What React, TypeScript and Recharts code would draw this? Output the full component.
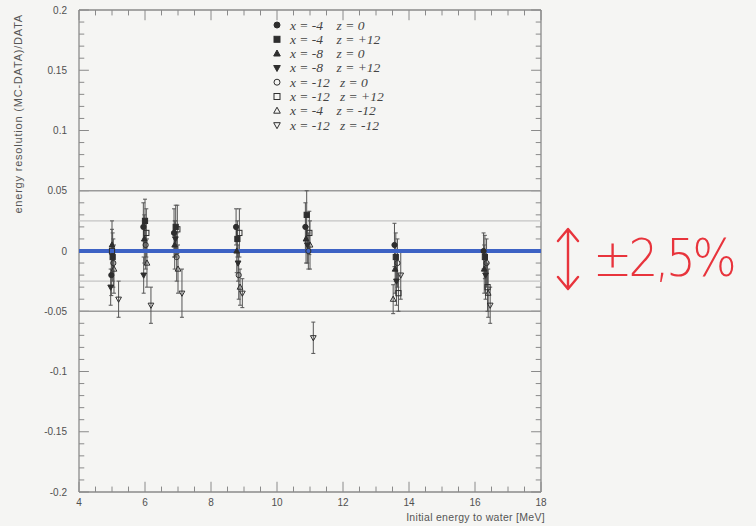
import React from 'react';
import { ScatterChart, Scatter, XAxis, YAxis, ReferenceLine, ErrorBar, Legend } from 'recharts';

// ---------- axis ticks ----------
const ENERGY_TICKS = [4, 6, 8, 10, 12, 14, 16, 18];
const RES_TICKS = [-0.2, -0.15, -0.1, -0.05, 0, 0.05, 0.1, 0.15, 0.2];
const RES_TICK_LABELS = ['-0.2', '-0.15', '-0.1', '-0.05', '0', '0.05', '0.1', '0.15', '0.2'];
const ENERGY_MINOR_DIV = 4;
const RES_MINOR_DIV = 5;

// ---------- reference bands ----------
const BAND_OUTER = [0.05, -0.05];
const BAND_INNER = [0.025, -0.025];
const NOMINAL = 0;

// ---------- series (LINAC positions) ----------
const S1_E = [4.98, 5.95, 6.88, 8.76, 10.86, 13.56, 16.26];
const S1_V = [-0.02, 0.02, 0.015, 0.02, 0.02, 0.005, 0.0];
const S1_ERR = [0.017, 0.02, 0.02, 0.015, 0.02, 0.018, 0.015];

const S2_E = [5.02, 6.0, 6.93, 8.8, 10.9, 13.6, 16.3];
const S2_V = [-0.005, 0.025, 0.02, 0.01, 0.03, -0.005, -0.005];
const S2_ERR = [0.02, 0.018, 0.018, 0.015, 0.02, 0.02, 0.018];

const S3_E = [5.0, 5.98, 6.9, 8.78, 10.88, 13.58, 16.28];
const S3_V = [0.005, 0.01, 0.005, 0.0, 0.01, -0.015, -0.015];
const S3_ERR = [0.02, 0.02, 0.02, 0.018, 0.02, 0.02, 0.02];

const S4_E = [4.96, 5.96, 6.92, 8.82, 10.92, 13.62, 16.32];
const S4_V = [-0.03, -0.02, 0.01, -0.01, 0.005, -0.025, -0.02];
const S4_ERR = [0.015, 0.015, 0.015, 0.015, 0.015, 0.02, 0.02];

const S5_E = [5.04, 6.02, 6.96, 8.84, 10.95, 13.65, 16.35];
const S5_V = [-0.01, 0.005, -0.005, -0.02, 0.0, -0.01, -0.01];
const S5_ERR = [0.02, 0.02, 0.02, 0.02, 0.015, 0.02, 0.02];

const S6_E = [5.0, 6.04, 6.98, 8.86, 10.98, 13.68, 16.38];
const S6_V = [0.0, 0.015, 0.018, 0.015, 0.015, -0.035, -0.03];
const S6_ERR = [0.018, 0.02, 0.02, 0.02, 0.018, 0.015, 0.02];

const S7_E = [5.06, 6.06, 7.0, 8.88, 11.0, 13.52, 16.4];
const S7_V = [-0.015, -0.01, -0.015, -0.03, 0.005, -0.04, -0.035];
const S7_ERR = [0.02, 0.02, 0.02, 0.015, 0.02, 0.012, 0.02];

const S8_E = [5.2, 6.18, 7.12, 8.95, 11.1, 13.75, 16.46];
const S8_V = [-0.04, -0.045, -0.035, -0.035, -0.072, -0.02, -0.045];
const S8_ERR = [0.015, 0.015, 0.02, 0.012, 0.013, 0.02, 0.015];

const SERIES_NAMES = [
  'x = -4    z = 0',
  'x = -4    z = +12',
  'x = -8    z = 0',
  'x = -8    z = +12',
  'x = -12   z = 0',
  'x = -12   z = +12',
  'x = -4    z = -12',
  'x = -12   z = -12',
];

type Kind = 'circle' | 'square' | 'up' | 'down';
const MARKERS: { kind: Kind; filled: boolean }[] = [
  { kind: 'circle', filled: true },
  { kind: 'square', filled: true },
  { kind: 'up', filled: true },
  { kind: 'down', filled: true },
  { kind: 'circle', filled: false },
  { kind: 'square', filled: false },
  { kind: 'up', filled: false },
  { kind: 'down', filled: false },
];

const build = (e: number[], v: number[], err: number[]) => e.map((x, i) => ({ e: x, v: v[i], err: err[i] }));
const SERIES = [
  build(S1_E, S1_V, S1_ERR),
  build(S2_E, S2_V, S2_ERR),
  build(S3_E, S3_V, S3_ERR),
  build(S4_E, S4_V, S4_ERR),
  build(S5_E, S5_V, S5_ERR),
  build(S6_E, S6_V, S6_ERR),
  build(S7_E, S7_V, S7_ERR),
  build(S8_E, S8_V, S8_ERR),
];

const withMinors = (majors: number[], n: number) =>
  majors.flatMap((m, i) =>
    i === majors.length - 1 ? [m] : Array.from({ length: n }, (_, k) => +(m + ((majors[i + 1] - m) * k) / n).toFixed(6))
  );
const X_ALL = withMinors(ENERGY_TICKS, ENERGY_MINOR_DIV);
const Y_ALL = withMinors(RES_TICKS, RES_MINOR_DIV);
const isMajor = (v: number, majors: number[]) => majors.some((m) => Math.abs(m - v) < 1e-9);

const X_MIN = ENERGY_TICKS[0];
const X_MAX = ENERGY_TICKS[ENERGY_TICKS.length - 1];
const Y_MIN = RES_TICKS[0];
const Y_MAX = RES_TICKS[RES_TICKS.length - 1];

// tick lengths expressed in axis units (plot is ~462 x 482 px)
const XTICK_MAJOR = 0.0085;
const XTICK_MINOR = 0.0045;
const YTICK_MAJOR = 0.3;
const YTICK_MINOR = 0.16;

const FRAME = '#8a8a8a';
const TICK_TEXT = '#505050';
const INK = '#2e2e2e';

const Mark = ({ cx, cy, kind, filled, r = 2.6 }: any) => {
  if (cx == null || cy == null) return null;
  const fill = filled ? INK : 'none';
  const common = { fill, stroke: INK, strokeWidth: 1 };
  if (kind === 'circle') return <circle cx={cx} cy={cy} r={r} {...common} />;
  if (kind === 'square') return <rect x={cx - r} y={cy - r} width={2 * r} height={2 * r} {...common} />;
  if (kind === 'up')
    return <polygon points={`${cx},${cy - r * 1.2} ${cx - r * 1.1},${cy + r * 0.8} ${cx + r * 1.1},${cy + r * 0.8}`} {...common} />;
  return <polygon points={`${cx},${cy + r * 1.2} ${cx - r * 1.1},${cy - r * 0.8} ${cx + r * 1.1},${cy - r * 0.8}`} {...common} />;
};

const BottomLabel = ({ x, y, payload }: any) => (
  <text x={x} y={y + 14} textAnchor="middle" fontSize={10} fill={TICK_TEXT} fontFamily="Liberation Sans, Arial, sans-serif">
    {payload.value}
  </text>
);
const LeftLabel = ({ x, y, payload }: any) => {
  const idx = RES_TICKS.findIndex((m) => Math.abs(m - payload.value) < 1e-9);
  return (
    <text x={x - 12} y={y + 3.5} textAnchor="end" fontSize={10} fill={TICK_TEXT} fontFamily="Liberation Sans, Arial, sans-serif">
      {RES_TICK_LABELS[idx]}
    </text>
  );
};

const LegendBox = () => (
  <svg width={160} height={124} style={{ display: 'block' }}>
    {SERIES_NAMES.map((name, i) => {
      const cy = 9 + i * 14.3;
      return (
        <g key={name}>
          <Mark cx={7} cy={cy} kind={MARKERS[i].kind} filled={MARKERS[i].filled} r={3} />
          <text x={20} y={cy + 4.5} fontSize={13.5} fontStyle="italic" fill="#444" fontFamily="Liberation Serif, DejaVu Serif, serif" style={{ whiteSpace: 'pre' }} xmlSpace="preserve">
            {name}
          </text>
        </g>
      );
    })}
  </svg>
);

const ax = { xAxisId: 'b', yAxisId: 'l', ifOverflow: 'visible' as const };

export default function App() {
  return (
    <div style={{ position: 'absolute', left: 0, top: 0, width: 756, height: 526, background: '#f5f5f3', overflow: 'hidden' }}>
      <ScatterChart width={756} height={526} margin={{ top: 10, right: 215, bottom: 4, left: 8 }}>
        <XAxis
          xAxisId="b"
          type="number"
          dataKey="e"
          domain={[X_MIN, X_MAX]}
          allowDataOverflow
          ticks={ENERGY_TICKS}
          interval={0}
          tickLine={false}
          tickSize={0}
          tickMargin={0}
          tick={(p: any) => <BottomLabel {...p} />}
          height={30}
          axisLine={false}
          label={(p: any) => {
            const vb = p.viewBox || { x: 79, y: 492, width: 462, height: 30 };
            return (
              <text x={vb.x + vb.width + 4} y={vb.y + 29} textAnchor="end" fontSize={10.5} letterSpacing={0.3} fill="#555" fontFamily="Liberation Sans, Arial, sans-serif">
                Initial energy to water [MeV]
              </text>
            );
          }}
        />
        <YAxis
          yAxisId="l"
          type="number"
          dataKey="v"
          domain={[Y_MIN, Y_MAX]}
          allowDataOverflow
          ticks={RES_TICKS}
          interval={0}
          tickLine={false}
          tickSize={0}
          tickMargin={0}
          tick={(p: any) => <LeftLabel {...p} />}
          width={71}
          axisLine={false}
          label={(p: any) => {
            const vb = p.viewBox || { x: 8, y: 10 };
            const lx = vb.x + 14;
            const ly = vb.y + 4;
            return (
              <text x={lx} y={ly} transform={`rotate(-90 ${lx} ${ly})`} textAnchor="end" fontSize={11} letterSpacing={0.8} fill="#555" fontFamily="Liberation Sans, Arial, sans-serif">
                energy resolution (MC-DATA)/DATA
              </text>
            );
          }}
        />

        {/* frame */}
        <ReferenceLine {...ax} y={Y_MIN} stroke={FRAME} strokeWidth={1.3} />
        <ReferenceLine {...ax} y={Y_MAX} stroke={FRAME} strokeWidth={1.3} />
        <ReferenceLine {...ax} x={X_MIN} stroke={FRAME} strokeWidth={1.3} />
        <ReferenceLine {...ax} x={X_MAX} stroke={FRAME} strokeWidth={1.3} />

        {/* x ticks (bottom & top, inward) */}
        {X_ALL.map((v) => {
          const len = isMajor(v, ENERGY_TICKS) ? XTICK_MAJOR : XTICK_MINOR;
          return (
            <React.Fragment key={'xt' + v}>
              <ReferenceLine {...ax} segment={[{ x: v, y: Y_MIN }, { x: v, y: Y_MIN + len }]} stroke={FRAME} />
              <ReferenceLine {...ax} segment={[{ x: v, y: Y_MAX }, { x: v, y: Y_MAX - len }]} stroke={FRAME} />
            </React.Fragment>
          );
        })}
        {/* y ticks (left & right, inward) */}
        {Y_ALL.map((v) => {
          const len = isMajor(v, RES_TICKS) ? YTICK_MAJOR : YTICK_MINOR;
          return (
            <React.Fragment key={'yt' + v}>
              <ReferenceLine {...ax} segment={[{ x: X_MIN, y: v }, { x: X_MIN + len, y: v }]} stroke={FRAME} />
              <ReferenceLine {...ax} segment={[{ x: X_MAX, y: v }, { x: X_MAX - len, y: v }]} stroke={FRAME} />
            </React.Fragment>
          );
        })}

        {BAND_OUTER.map((y) => (
          <ReferenceLine key={'o' + y} {...ax} y={y} stroke="#9a9a9a" strokeWidth={1.6} />
        ))}
        {BAND_INNER.map((y) => (
          <ReferenceLine key={'i' + y} {...ax} y={y} stroke="#c4c4c4" strokeWidth={1.2} />
        ))}
        {SERIES.map((data, i) => (
          <Scatter
            key={SERIES_NAMES[i]}
            name={SERIES_NAMES[i]}
            xAxisId="b"
            yAxisId="l"
            data={data}
            isAnimationActive={false}
            shape={(p: any) => <Mark cx={p.cx} cy={p.cy} kind={MARKERS[i].kind} filled={MARKERS[i].filled} />}
          >
            <ErrorBar dataKey="err" direction="y" width={2} stroke="#555" strokeWidth={1} isAnimationActive={false} />
          </Scatter>
        ))}
        <ReferenceLine {...ax} y={NOMINAL} stroke="#3d62c4" strokeWidth={4} />
        <Legend
          layout="vertical"
          align="center"
          verticalAlign="middle"
          content={() => <LegendBox />}
          wrapperStyle={{ position: 'absolute', left: 270, top: 16, width: 160, height: 124 }}
        />
      </ScatterChart>
      <svg width={40} height={70} style={{ position: 'absolute', left: 550, top: 224 }}>
        <path d="M18 6 L18 64 M8 17 L18 5 L28 17 M8 53 L18 65 L28 53" stroke="#e8343c" strokeWidth={2.4} fill="none" strokeLinecap="round" strokeLinejoin="round" />
      </svg>
      <div
        style={{
          position: 'absolute',
          left: 593,
          top: 228,
          fontSize: 52,
          lineHeight: '60px',
          color: '#e8343c',
          fontFamily: 'DejaVu Sans, Liberation Sans, sans-serif',
          fontWeight: 200,
          letterSpacing: -4,
          transform: 'scaleX(0.9)',
          transformOrigin: 'left top',
        }}
      >
        ±2,5%
      </div>
    </div>
  );
}
